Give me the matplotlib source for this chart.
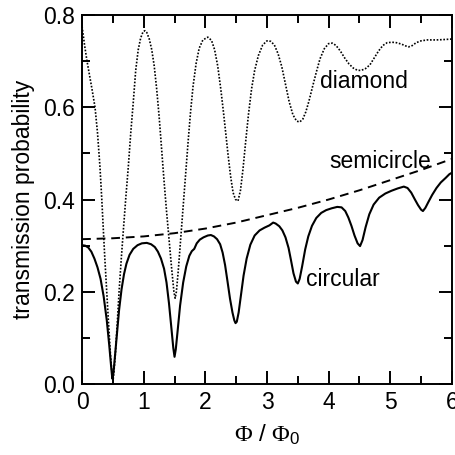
import matplotlib
matplotlib.use("Agg")
import matplotlib.pyplot as plt

plt.rcParams["font.family"] = ["Liberation Sans", "DejaVu Sans"]
plt.rcParams["mathtext.fontset"] = "custom"
plt.rcParams["mathtext.rm"] = "Liberation Serif"
plt.rcParams["mathtext.it"] = "Liberation Serif"
plt.rcParams["mathtext.sf"] = "Liberation Sans"

# transmission vs flux (in units of the flux quantum) for three ring shapes
circ_x = [0.00, 0.05, 0.10, 0.15, 0.20, 0.25, 0.30, 0.35, 0.40, 0.44, 0.47, 0.49,
          0.51, 0.54, 0.57, 0.60, 0.64, 0.68, 0.72, 0.77, 0.83, 0.90, 0.97, 1.05,
          1.12, 1.18, 1.23, 1.28, 1.33, 1.37, 1.41, 1.45, 1.48, 1.50, 1.52, 1.55,
          1.59, 1.64, 1.69, 1.74, 1.78, 1.82, 1.86, 1.91, 1.97, 2.04, 2.09, 2.14,
          2.19, 2.24, 2.28, 2.32, 2.36, 2.40, 2.44, 2.47, 2.49, 2.51, 2.54, 2.58,
          2.62, 2.67, 2.73, 2.80, 2.88, 2.96, 3.04, 3.10, 3.14, 3.20, 3.25, 3.30,
          3.35, 3.39, 3.43, 3.47, 3.50, 3.53, 3.57, 3.62, 3.67, 3.73, 3.80, 3.88,
          3.96, 4.05, 4.14, 4.21, 4.27, 4.32, 4.37, 4.42, 4.47, 4.51, 4.55, 4.60,
          4.66, 4.73, 4.82, 4.92, 5.02, 5.12, 5.22, 5.28, 5.34, 5.40, 5.45, 5.50,
          5.53, 5.57, 5.62, 5.68, 5.75, 5.82, 5.90, 5.96, 6.00]
circ_y = [0.301, 0.300, 0.296, 0.287, 0.272, 0.253, 0.228, 0.190, 0.139, 0.085, 0.040, 0.012,
          0.025, 0.070, 0.115, 0.160, 0.205, 0.238, 0.261, 0.280, 0.293, 0.301, 0.305, 0.306,
          0.303, 0.297, 0.287, 0.272, 0.250, 0.220, 0.175, 0.120, 0.078, 0.059, 0.075, 0.115,
          0.170, 0.220, 0.255, 0.278, 0.288, 0.293, 0.305, 0.313, 0.318, 0.322, 0.323, 0.320,
          0.314, 0.303, 0.285, 0.258, 0.222, 0.185, 0.155, 0.138, 0.132, 0.135, 0.155, 0.195,
          0.235, 0.272, 0.302, 0.322, 0.333, 0.339, 0.344, 0.350, 0.348, 0.342, 0.333, 0.318,
          0.295, 0.268, 0.240, 0.222, 0.218, 0.228, 0.255, 0.292, 0.320, 0.343, 0.360, 0.371,
          0.377, 0.381, 0.384, 0.383, 0.375, 0.361, 0.343, 0.322, 0.305, 0.299, 0.312, 0.340,
          0.368, 0.389, 0.404, 0.413, 0.419, 0.424, 0.428, 0.425, 0.415, 0.400, 0.388, 0.378,
          0.375, 0.382, 0.395, 0.410, 0.425, 0.437, 0.447, 0.455, 0.458]

semi_x = [0.0, 0.5, 1.0, 1.5, 2.0, 2.5, 3.0, 3.5, 4.0, 4.5, 5.0, 5.5, 6.0]
semi_y = [0.314, 0.316, 0.320, 0.327, 0.337, 0.350, 0.366, 0.382, 0.400, 0.420, 0.442, 0.464, 0.488]

diam_x = [0.00, 0.04, 0.08, 0.12, 0.16, 0.21, 0.25, 0.29, 0.32, 0.345, 0.37, 0.40,
          0.43, 0.46, 0.49, 0.50, 0.51, 0.54, 0.57, 0.60, 0.635, 0.67, 0.71, 0.75,
          0.79, 0.83, 0.87, 0.91, 0.95, 0.99, 1.02, 1.05, 1.09, 1.13, 1.17, 1.21,
          1.25, 1.29, 1.33, 1.37, 1.41, 1.45, 1.49, 1.51, 1.53, 1.56, 1.60, 1.64,
          1.68, 1.72, 1.76, 1.80, 1.85, 1.90, 1.96, 2.04, 2.10, 2.15, 2.20, 2.25,
          2.29, 2.33, 2.37, 2.41, 2.45, 2.49, 2.53, 2.57, 2.61, 2.65, 2.70, 2.75,
          2.80, 2.86, 2.93, 3.00, 3.06, 3.12, 3.18, 3.24, 3.30, 3.36, 3.42, 3.48,
          3.53, 3.58, 3.63, 3.68, 3.74, 3.80, 3.86, 3.93, 4.00, 4.06, 4.12, 4.19,
          4.26, 4.33, 4.40, 4.47, 4.53, 4.60, 4.67, 4.74, 4.81, 4.88, 4.95, 5.03,
          5.10, 5.18, 5.25, 5.30, 5.36, 5.42, 5.50, 5.60, 5.75, 5.90, 6.00]
diam_y = [0.775, 0.735, 0.700, 0.670, 0.640, 0.600, 0.545, 0.471, 0.400, 0.334, 0.270, 0.200,
          0.130, 0.065, 0.015, 0.008, 0.015, 0.065, 0.130, 0.200, 0.270, 0.334, 0.405, 0.471,
          0.545, 0.610, 0.680, 0.724, 0.750, 0.764, 0.766, 0.762, 0.748, 0.725, 0.690, 0.640,
          0.580, 0.510, 0.440, 0.375, 0.315, 0.255, 0.200, 0.186, 0.200, 0.245, 0.315, 0.385,
          0.455, 0.525, 0.590, 0.645, 0.695, 0.728, 0.746, 0.752, 0.745, 0.725, 0.690, 0.640,
          0.594, 0.545, 0.495, 0.450, 0.415, 0.400, 0.397, 0.420, 0.465, 0.520, 0.585, 0.640,
          0.680, 0.712, 0.735, 0.744, 0.743, 0.735, 0.716, 0.688, 0.650, 0.612, 0.584, 0.570,
          0.568, 0.574, 0.590, 0.613, 0.645, 0.676, 0.705, 0.727, 0.738, 0.739, 0.734, 0.722,
          0.707, 0.694, 0.685, 0.680, 0.680, 0.684, 0.692, 0.707, 0.722, 0.734, 0.740, 0.741,
          0.740, 0.737, 0.733, 0.731, 0.734, 0.740, 0.744, 0.746, 0.746, 0.747, 0.748]

x_ticks = [0, 1, 2, 3, 4, 5, 6]
y_ticks = [0.0, 0.2, 0.4, 0.6, 0.8]
y_tick_labels = ["0.0", "0.2", "0.4", "0.6", "0.8"]

fig = plt.figure(figsize=(4.56, 4.55), dpi=100)
ax = fig.add_axes([0.180, 0.156, 0.811, 0.811])

ax.plot(circ_x, circ_y, color="black", lw=1.5, solid_joinstyle="round")
ax.plot(semi_x, semi_y, color="black", lw=1.4, linestyle=(0, (4.5, 3)))
ax.plot(diam_x, diam_y, color="black", lw=1.2, linestyle=(0, (1, 1)))

fs = 16.5
ax.text(3.86, 0.656, "diamond", fontsize=fs, va="center", ha="left")
ax.text(4.02, 0.482, "semicircle", fontsize=fs, va="center", ha="left")
ax.text(3.63, 0.226, "circular", fontsize=fs, va="center", ha="left")

ax.set_xlim(0, 6)
ax.set_ylim(0, 0.8)
ax.set_xticks(x_ticks)
ax.set_xticklabels([str(t) for t in x_ticks])
ax.set_yticks(y_ticks)
ax.set_yticklabels(y_tick_labels)
ax.set_xticks([0.5 + i for i in range(6)], minor=True)
ax.set_yticks([0.1, 0.3, 0.5, 0.7], minor=True)
ax.tick_params(which="both", direction="in", top=True, right=True,
               labelsize=fs, width=1.4, pad=5)
ax.tick_params(which="major", length=9.5)
ax.tick_params(which="minor", length=5.5)
for s in ax.spines.values():
    s.set_linewidth(1.4)

ax.set_xlabel(r"$\Phi$ / $\Phi_{\mathsf{0}}$", fontsize=fs + 1, labelpad=6)
ax.set_ylabel("transmission probability", fontsize=fs, labelpad=6)

fig.savefig("out.png", dpi=100)
